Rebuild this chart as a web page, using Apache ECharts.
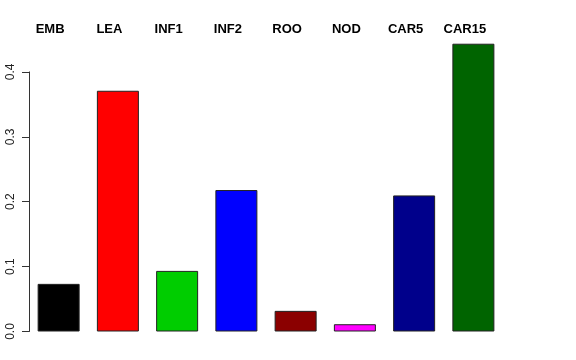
<!DOCTYPE html>
<html>
<head>
<meta charset="utf-8">
<script src="https://cdn.jsdelivr.net/npm/echarts@6/dist/echarts.min.js"></script>
<style>html,body{margin:0;padding:0;background:#fff}#c{width:576px;height:360px}</style>
</head>
<body>
<div id="c"></div>
<script>
const categories = ['EMB', 'LEA', 'INF1', 'INF2', 'ROO', 'NOD', 'CAR5', 'CAR15'];
const values = [0.0734, 0.371, 0.0934, 0.218, 0.0318, 0.0112, 0.2097, 0.4435];
const barColors = ['#000000', '#FF0000', '#00CD00', '#0000FF', '#8B0000', '#FF00FF', '#00008B', '#006400'];
const yTicks = [0, 0.1, 0.2, 0.3, 0.4];

const chart = echarts.init(document.getElementById('c'), null, {renderer: 'canvas'});
const font = 'Liberation Sans, Arial, Helvetica, sans-serif';
chart.setOption({
  animation: false,
  backgroundColor: '#fff',
  grid: [
    {left: 29, right: 73, top: 39.5, bottom: 28.5},
    {left: 29, right: 73, top: 71.9, bottom: 28.5}
  ],
  xAxis: [
    {
      type: 'category', data: categories, gridIndex: 0, position: 'top',
      axisLine: {show: false}, axisTick: {show: false},
      axisLabel: {fontFamily: font, fontWeight: 'bold', fontSize: 13, color: '#000', margin: 3.5, padding: [0, 17, 0, 0], interval: 0}
    },
    {type: 'category', data: categories, gridIndex: 1, show: false}
  ],
  yAxis: [
    {type: 'value', gridIndex: 0, min: 0, max: 0.45, show: false},
    {
      type: 'value', gridIndex: 1, min: 0, max: 0.4, interval: 0.1,
      axisLine: {show: true, lineStyle: {color: '#333', width: 1}},
      axisTick: {show: true, length: 7, lineStyle: {color: '#333'}},
      splitLine: {show: false},
      axisLabel: {
        rotate: 90, margin: 12.5, fontFamily: font, fontSize: 12, color: '#222',
        formatter: v => yTicks.includes(Math.round(v * 10) / 10) ? v.toFixed(1) : ''
      }
    }
  ],
  series: [{
    type: 'bar', xAxisIndex: 0, yAxisIndex: 0, barWidth: 42,
    data: values.map((v, i) => ({value: v, itemStyle: {color: barColors[i]}})),
    itemStyle: {borderColor: '#222', borderWidth: 1}
  }]
});
</script>
</body>
</html>
